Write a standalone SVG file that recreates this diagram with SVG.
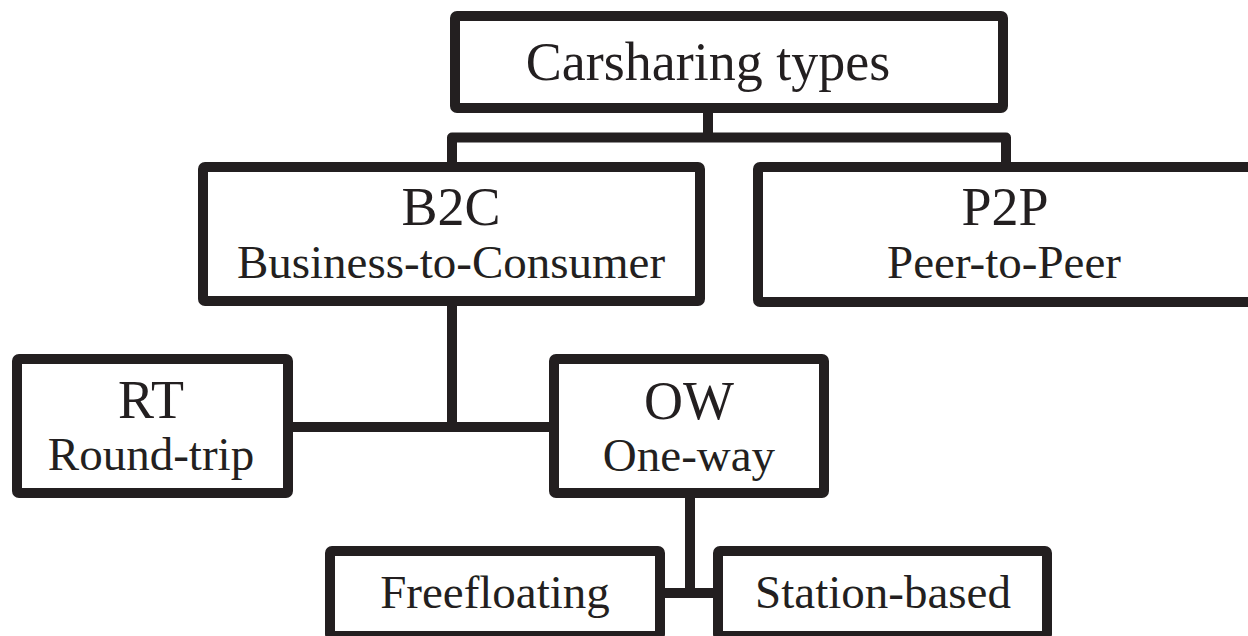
<svg xmlns="http://www.w3.org/2000/svg" width="1248" height="636" viewBox="0 0 1248 636">
<style>
.box{fill:#fff;stroke:#231f20;stroke-width:10;stroke-linejoin:round}
.conn{fill:none;stroke:#231f20;stroke-width:10;stroke-linejoin:round}
text{font-family:"Liberation Serif","Times New Roman",serif;fill:#231f20;text-anchor:middle}
.t1{font-size:54px}
.t2{font-size:47px}
</style>
<rect width="1248" height="636" fill="#fff"/>
<g id="connectors">
<path class="conn" d="M708,110 V137.5 M452,165 V137.5 H1006 V165"/>
<path class="conn" d="M452,303 V427 M290,427 H552"/>
<path class="conn" d="M690,495 V593 M662,593 H716"/>
</g>
<g id="root">
<rect class="box" x="455" y="16" width="548" height="92" rx="2"/>
<text class="t1" x="708" y="80">Carsharing types</text>
</g>
<g id="b2c">
<rect class="box" x="203" y="167" width="497" height="134" rx="2"/>
<text class="t1" x="451" y="225">B2C</text>
<text class="t2" x="451" y="278">Business-to-Consumer</text>
</g>
<g id="p2p">
<rect class="box" x="758" y="167" width="495" height="135" rx="2"/>
<text class="t1" x="1005" y="225">P2P</text>
<text class="t2" x="1004" y="278">Peer-to-Peer</text>
</g>
<g id="rt">
<rect class="box" x="17" y="359" width="271" height="134" rx="2"/>
<text class="t1" x="151" y="418">RT</text>
<text class="t2" x="151" y="470">Round-trip</text>
</g>
<g id="ow">
<rect class="box" x="554" y="359" width="270" height="134" rx="2"/>
<text class="t1" x="689" y="419">OW</text>
<text class="t2" x="689" y="471">One-way</text>
</g>
<g id="freefloating">
<rect class="box" x="330" y="551" width="330" height="85" rx="2"/>
<text class="t2" x="495" y="608">Freefloating</text>
</g>
<g id="station">
<rect class="box" x="718" y="551" width="329" height="85" rx="2"/>
<text class="t2" x="883" y="608">Station-based</text>
</g>
</svg>
